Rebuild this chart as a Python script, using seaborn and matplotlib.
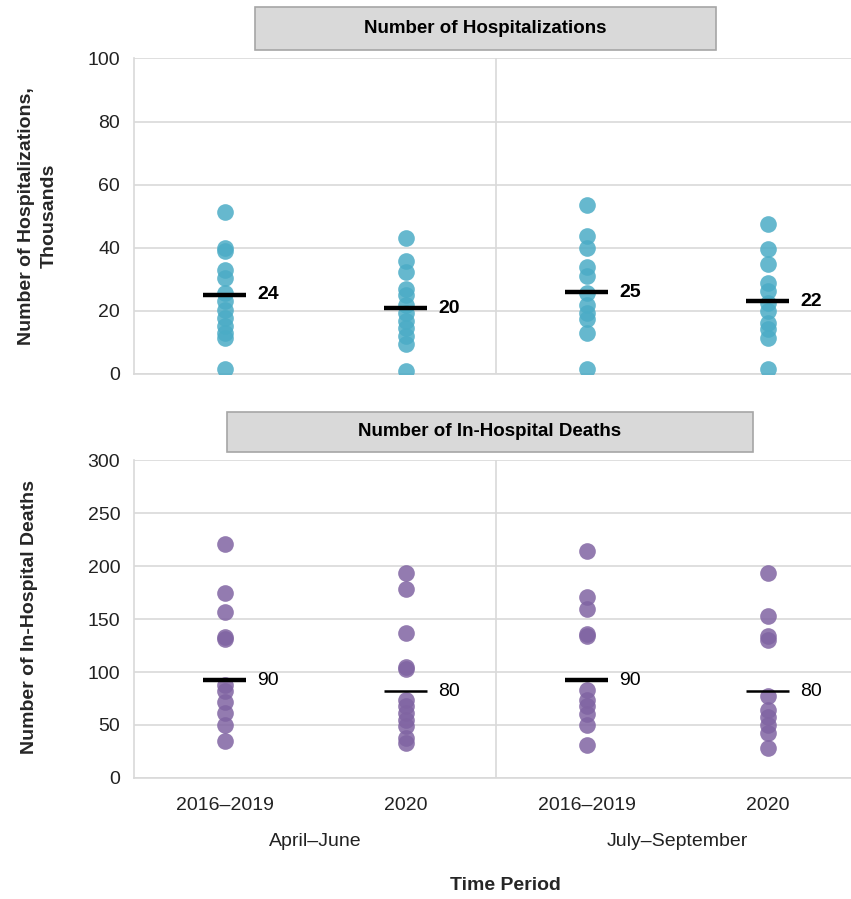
"""
Hospitalizations and in-hospital deaths by time period: dot plot with mean markers.
"""
import pandas as pd
import numpy as np
import matplotlib
matplotlib.use("Agg")
import matplotlib.pyplot as plt
from matplotlib.patches import Rectangle
import seaborn as sns

sns.set_theme(style="white")
plt.rcParams["font.family"] = ["Liberation Sans Narrow", "Liberation Sans", "DejaVu Sans"]

# --- data ---
GROUPS = ["apr_base", "apr_2020", "jul_base", "jul_2020"]
PERIOD_LABELS = ["2016–2019", "2020", "2016–2019", "2020"]
SEASON_LABELS = ["April–June", "July–September"]

hosp_apr_base = [51.3, 40.0, 39.0, 33.1, 30.5, 25.7, 23.1, 20.4, 17.8, 15.1, 13.0, 11.4, 1.7]
hosp_apr_2020 = [43.2, 35.7, 32.3, 26.8, 24.9, 22.0, 19.4, 16.7, 14.6, 11.9, 9.6, 1.0]
hosp_jul_base = [53.4, 43.7, 40.0, 34.0, 31.2, 25.7, 22.0, 19.4, 17.5, 13.0, 1.7]
hosp_jul_2020 = [47.6, 39.5, 34.7, 28.9, 26.2, 22.5, 19.9, 16.2, 14.1, 11.4, 1.7]
hosp_means = [25.1, 20.9, 25.9, 23.0]
hosp_mean_labels = ["24", "20", "25", "22"]

deaths_apr_base = [221, 175, 157, 133, 131, 88, 82, 72, 61, 50, 35]
deaths_apr_2020 = [193, 178, 137, 105, 103, 74, 68, 61, 55, 49, 38, 33]
deaths_jul_base = [214, 171, 159, 136, 134, 83, 74, 68, 60, 50, 31]
deaths_jul_2020 = [193, 153, 134, 130, 77, 64, 58, 50, 42, 28]
deaths_means = [92, 82, 92, 82]
deaths_mean_labels = ["90", "80", "90", "80"]

TEAL = "#4BACC6"
PURPLE = "#8064A2"
GRID = "#D9D9D9"


def to_frame(series_lists):
    rows = []
    for grp, vals in zip(GROUPS, series_lists):
        for v in vals:
            rows.append({"group": grp, "value": v})
    return pd.DataFrame(rows)


hosp_df = to_frame([hosp_apr_base, hosp_apr_2020, hosp_jul_base, hosp_jul_2020])
deaths_df = to_frame([deaths_apr_base, deaths_apr_2020, deaths_jul_base, deaths_jul_2020])

fig = plt.figure(figsize=(8.51, 8.99), dpi=100)
ax_top = fig.add_axes([0.1575, 0.584, 0.851, 0.351])
ax_bot = fig.add_axes([0.1575, 0.1346, 0.851, 0.3537])


def draw_panel(ax, df, means, labels, color, ymax, step, lws, bold_labels):
    sns.stripplot(data=df, x="group", y="value", order=GROUPS, jitter=False,
                  color=color, alpha=0.85, size=12, linewidth=0, ax=ax, zorder=3)
    xs = np.arange(len(GROUPS))
    for x, m, lab, lw in zip(xs, means, labels, lws):
        ax.hlines(m, x - 0.12, x + 0.12, color="black", lw=lw, zorder=4)
        ax.text(x + 0.18, m, lab, ha="left", va="center", fontsize=14,
                fontweight="bold" if bold_labels else "normal", color="black")
    ax.set_xlim(-0.5, 3.5)
    ax.set_ylim(0, ymax)
    ax.set_yticks(np.arange(0, ymax + 1, step))
    ax.grid(axis="y", color=GRID, lw=1.2, zorder=0)
    ax.axvline(1.5, color=GRID, lw=1.2, zorder=0)
    for s in ["top", "right"]:
        ax.spines[s].set_visible(False)
    for s in ["left", "bottom"]:
        ax.spines[s].set_color(GRID)
        ax.spines[s].set_linewidth(1.2)
    ax.tick_params(axis="both", length=0, labelsize=14, colors="#222222", pad=10)
    ax.set_xlabel("")
    ax.set_ylabel("")


draw_panel(ax_top, hosp_df, hosp_means, hosp_mean_labels, TEAL, 100, 20,
           [3.2, 3.2, 3.2, 3.2], True)
ax_top.set_xticklabels([])

draw_panel(ax_bot, deaths_df, deaths_means, deaths_mean_labels, PURPLE, 300, 50,
           [3.2, 1.8, 3.2, 1.8], False)
ax_bot.set_xticks(range(len(PERIOD_LABELS)))
ax_bot.set_xticklabels(PERIOD_LABELS)
ax_bot.tick_params(axis="x", pad=14)
for x, season in zip([0.5, 2.5], SEASON_LABELS):
    ax_bot.text(x, -0.2, season, transform=ax_bot.get_xaxis_transform(),
                ha="center", va="center", fontsize=14, color="#222222")

W, H = 851, 899


def strip_box(x0, x1, y0, y1, title):
    fig.patches.append(Rectangle((x0 / W, 1 - y1 / H), (x1 - x0) / W, (y1 - y0) / H,
                                 transform=fig.transFigure, facecolor="#D9D9D9",
                                 edgecolor="#A6A6A6", lw=1.2))
    fig.text((x0 + x1) / 2 / W, 1 - (y0 + y1) / 2 / H, title, ha="center", va="center",
             fontsize=13.5, fontweight="bold", color="black")


strip_box(255, 716, 7, 50, "Number of Hospitalizations")
strip_box(227, 753, 412, 452, "Number of In-Hospital Deaths")

fig.text(38 / W, 1 - 216 / H, "Number of Hospitalizations,\nThousands", rotation=90,
         ha="center", va="center", fontsize=14, fontweight="bold", linespacing=1.45)
fig.text(30 / W, 1 - 617 / H, "Number of In-Hospital Deaths", rotation=90,
         ha="center", va="center", fontsize=14, fontweight="bold")
fig.text(505 / W, 1 - 885 / H, "Time Period", ha="center", va="center",
         fontsize=14, fontweight="bold")

fig.savefig("out.png", dpi=100)
